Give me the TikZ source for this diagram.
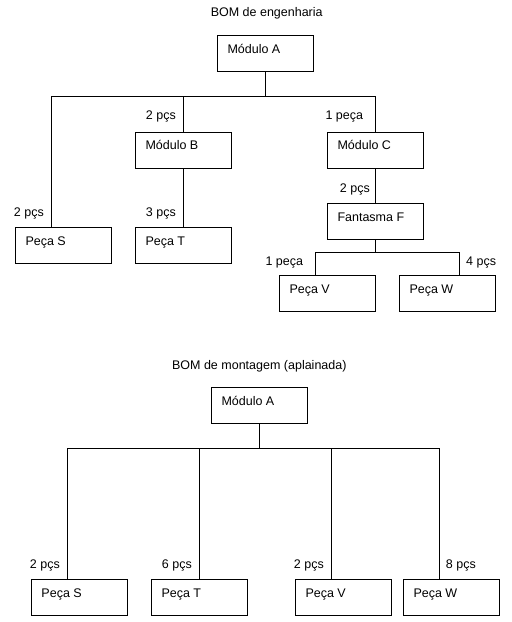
\documentclass[tikz,border=0pt]{standalone}
\usepackage{fontspec}
\setmainfont{Liberation Sans}
\usetikzlibrary{calc}
\begin{document}
\begin{tikzpicture}[x=1pt,y=-1pt,
  box/.style={draw, line width=1pt, minimum width=96pt, minimum height=36pt, inner sep=0pt, anchor=north west},
  boxtext/.style={anchor=base west, inner sep=0pt, font=\fontsize{12.5}{14}\selectfont},
  qty/.style={anchor=base east, inner sep=0pt, font=\fontsize{12.5}{14}\selectfont},
  qtyr/.style={anchor=base west, inner sep=0pt, font=\fontsize{12.5}{14}\selectfont},
  ttl/.style={anchor=base, inner sep=0pt, font=\fontsize{12.5}{14}\selectfont},
  conn/.style={line width=1pt}]
\fill[white] (0,0) rectangle (512,622);
% ---------- Top: BOM de engenharia ----------
\node[ttl] (t1) at (266.7,16.7) {BOM de engenharia};
\node[box] (A)  at (217.3,35.3) {};
\node[box] (B)  at (135.3,131.7) {};
\node[box] (C)  at (327.3,131.7) {};
\node[box] (S)  at (15.3,227.3) {};
\node[box] (T)  at (135.3,227.3) {};
\node[box] (F)  at (327.3,203.3) {};
\node[box] (V)  at (279.3,275.3) {};
\node[box] (W)  at (399.3,275.3) {};
\node[boxtext] at ($(A.north west)+(10,18)$) {Módulo A};
\node[boxtext] at ($(B.north west)+(10,18)$) {Módulo B};
\node[boxtext] at ($(C.north west)+(10,18)$) {Módulo C};
\node[boxtext] at ($(S.north west)+(10,18)$) {Peça S};
\node[boxtext] at ($(T.north west)+(10,18)$) {Peça T};
\node[boxtext] at ($(F.north west)+(10,18)$) {Fantasma F};
\node[boxtext] at ($(V.north west)+(10,18)$) {Peça V};
\node[boxtext] at ($(W.north west)+(10,18)$) {Peça W};
\coordinate (j1) at ($(A.south)+(0,24)$);
\coordinate (sS) at ($(S.north)+(-12,0)$);
\draw[conn] (A.south) -- (j1);
\draw[conn] (sS) -- (sS |- j1) -- (C.north |- j1) -- (C.north);
\draw[conn] (B.north) -- (B.north |- j1);
\draw[conn] (B.south) -- (T.north);
\draw[conn] (C.south) -- (F.north);
\coordinate (j2) at ($(F.south)+(0,12)$);
\coordinate (sV) at ($(V.north)+(-12,0)$);
\coordinate (sW) at ($(W.north)+(12,0)$);
\draw[conn] (F.south) -- (j2);
\draw[conn] (sV) -- (sV |- j2) -- (sW |- j2) -- (sW);
\node[qty] at (176,119.3) {2 pçs};
\node[qty] at (363.3,119.3) {1 peça};
\node[qty] at (44,216) {2 pçs};
\node[qty] at (176,216) {3 pçs};
\node[qty] at (370,192) {2 pçs};
\node[qty] at (303.3,265) {1 peça};
\node[qtyr] at (466,265) {4 pçs};
% ---------- Bottom: BOM de montagem ----------
\node[ttl] (t2) at (259.3,369) {BOM de montagem (aplainada)};
\node[box] (A2) at (211.3,387.3) {};
\node[box] (S2) at (31.3,579.3) {};
\node[box] (T2) at (151.3,579.3) {};
\node[box] (V2) at (295.3,579.3) {};
\node[box] (W2) at (403.3,579.3) {};
\node[boxtext] at ($(A2.north west)+(10,18)$) {Módulo A};
\node[boxtext] at ($(S2.north west)+(10,18)$) {Peça S};
\node[boxtext] at ($(T2.north west)+(10,18)$) {Peça T};
\node[boxtext] at ($(V2.north west)+(10,18)$) {Peça V};
\node[boxtext] at ($(W2.north west)+(10,18)$) {Peça W};
\coordinate (j3) at ($(A2.south)+(0,24)$);
\coordinate (sS2) at ($(S2.north)+(-12,0)$);
\coordinate (sV2) at ($(V2.north)+(-12,0)$);
\coordinate (sW2) at ($(W2.north)+(-12,0)$);
\draw[conn] (A2.south) -- (j3);
\draw[conn] (sS2) -- (sS2 |- j3) -- (sW2 |- j3) -- (sW2);
\draw[conn] (T2.north) -- (T2.north |- j3);
\draw[conn] (sV2) -- (sV2 |- j3);
\node[qty] at (60,568.7) {2 pçs};
\node[qty] at (192,568.7) {6 pçs};
\node[qty] at (324,568.7) {2 pçs};
\node[qty] at (476,568.7) {8 pçs};
\end{tikzpicture}
\end{document}
